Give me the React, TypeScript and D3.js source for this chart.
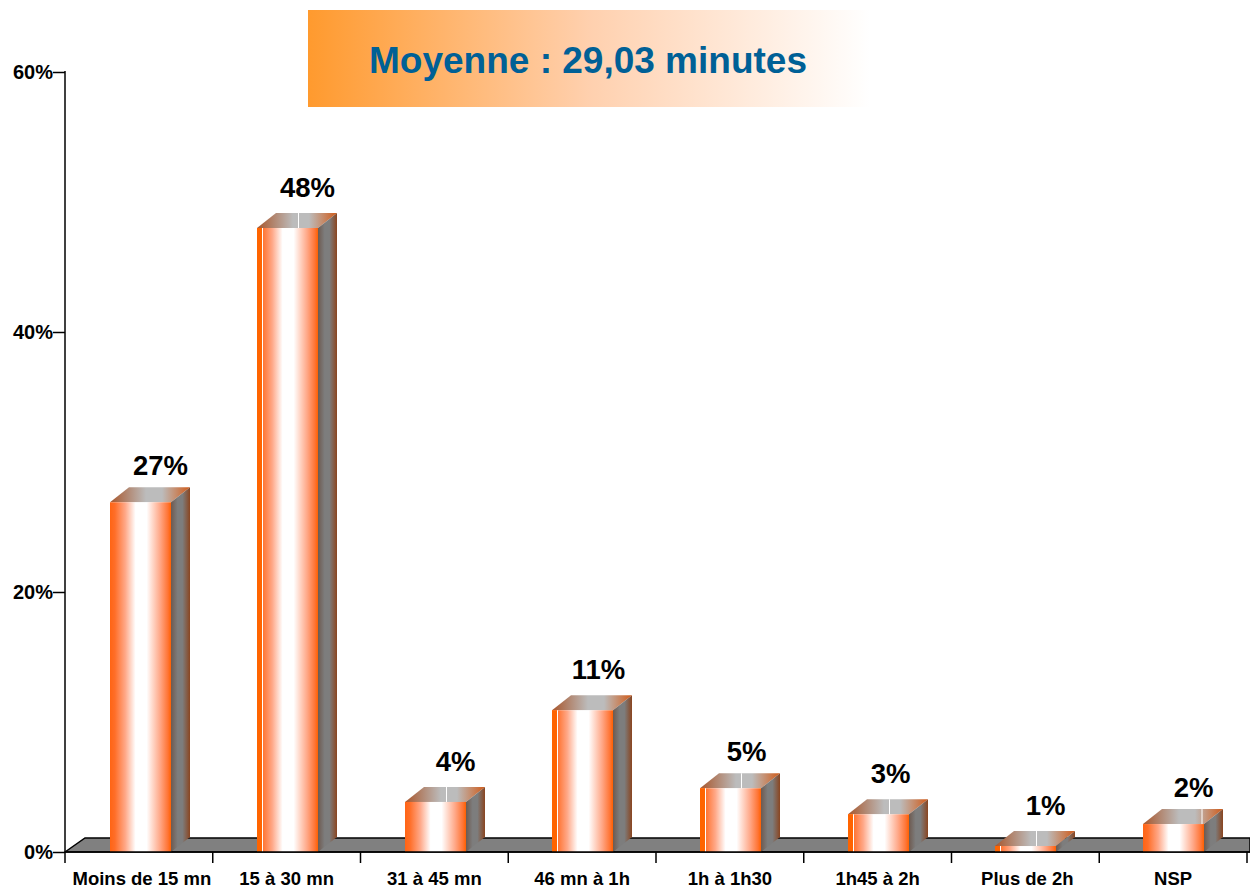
import React, { useEffect, useRef } from "react";
import * as d3 from "d3";

const categories = ["Moins de 15 mn", "15 à 30 mn", "31 à 45 mn", "46 mn à 1h", "1h à 1h30", "1h45 à 2h", "Plus de 2h", "NSP"];
const values = [26.9, 48, 3.85, 10.9, 4.9, 2.9, 0.46, 2.15];
const labels = ["27%", "48%", "4%", "11%", "5%", "3%", "1%", "2%"];
const yTicks = [0, 20, 40, 60];
const title = "Moyenne : 29,03 minutes";
const FONT = "'Liberation Sans', Arial, sans-serif";

export default function App() {
  const ref = useRef<SVGSVGElement>(null);

  useEffect(() => {
    const svg = d3.select(ref.current);
    svg.selectAll("*").remove();

    const margin = { left: 65, top: 72, right: 1247, bottom: 852 };
    const x = d3.scaleBand<string>().domain(categories).range([margin.left, margin.right]);
    // bars don't sit quite centred in the bands, so they get their own scale
    const barX = d3.scalePoint<string>().domain(categories).range([110, 1143.5]);
    const y = d3.scaleLinear().domain([0, 60]).range([margin.bottom, margin.top]);
    const depthX = 19;
    const depthY = 15;
    const barW = 61;

    const defs = svg.append("defs");
    const grad = (id: string, stops: [number, string][]) => {
      const g = defs.append("linearGradient").attr("id", id).attr("x1", "0%").attr("x2", "100%").attr("y1", "0%").attr("y2", "0%");
      stops.forEach(([o, c]) => g.append("stop").attr("offset", o + "%").attr("stop-color", c));
    };
    grad("banner", [[0, "#ff9a2e"], [50, "#ffd0ae"], [100, "#ffffff"]]);
    grad("front", [[0, "#ff6414"], [8, "#ff6e28"], [25, "#ffa888"], [42, "#ffffff"], [60, "#ffffff"], [82, "#ffa888"], [95, "#ff7434"], [100, "#ff6000"]]);
    grad("top", [[0, "#a8562c"], [45, "#bcbcbc"], [65, "#bcbcbc"], [100, "#d05a18"]]);
    grad("side", [[0, "#6e5a50"], [35, "#7d7d7d"], [60, "#7d7d7d"], [100, "#8a4520"]]);

    // banner
    svg.append("rect").attr("x", 308).attr("y", 10).attr("width", 562).attr("height", 97).attr("fill", "url(#banner)");
    svg.append("text").attr("x", 369).attr("y", 73).attr("font-family", FONT).attr("font-weight", "bold")
      .attr("font-size", 37).attr("fill", "#006096").text(title);

    // floor
    const floor = d3.path();
    floor.moveTo(margin.left, margin.bottom);
    floor.lineTo(margin.left + depthX + 1, margin.bottom - depthY + 1);
    floor.lineTo(1250, margin.bottom - depthY + 1);
    floor.lineTo(1250, margin.bottom);
    floor.closePath();
    svg.append("path").attr("d", floor.toString()).attr("fill", "#808080").attr("stroke", "#000").attr("stroke-width", 1.5);

    // bars
    const bars = svg.selectAll("g.bar").data(categories).enter().append("g").attr("class", "bar");
    bars.each(function (c, i) {
      const g = d3.select(this);
      const x0 = Math.floor(barX(c) as number);
      const top = y(values[i]);
      const bottom = y(0);
      const topFace = d3.path();
      topFace.moveTo(x0, top);
      topFace.lineTo(x0 + depthX, top - depthY);
      topFace.lineTo(x0 + barW + depthX, top - depthY);
      topFace.lineTo(x0 + barW, top);
      topFace.closePath();
      g.append("path").attr("d", topFace.toString()).attr("fill", "url(#top)");
      const side = d3.path();
      side.moveTo(x0 + barW, top);
      side.lineTo(x0 + barW + depthX, top - depthY);
      side.lineTo(x0 + barW + depthX, bottom - depthY);
      side.lineTo(x0 + barW, bottom);
      side.closePath();
      g.append("path").attr("d", side.toString()).attr("fill", "url(#side)");
      g.append("rect").attr("x", x0).attr("y", top).attr("width", barW).attr("height", bottom - top).attr("fill", "url(#front)");

      // the white seams only show on some bars in the original
      if ([1, 3, 4, 5, 6].includes(i)) {
        g.append("rect").attr("x", x0).attr("y", top).attr("width", 5).attr("height", bottom - top).attr("fill", "#ff6400");
        g.append("rect").attr("x", x0 + 5).attr("y", top).attr("width", 1).attr("height", bottom - top).attr("fill", "#fff");
      }
      if (i !== 0 && i !== 3) {
        const sx = x0 + (i === 7 ? 59 : 41.5);
        g.append("line").attr("x1", sx).attr("x2", sx).attr("y1", top - depthY).attr("y2", top).attr("stroke", "#fff");
      }

      const gap = [0, 4, 7].includes(i) ? 27 : 31;
      // labels of bars 4-6 sit further left
      const nudge = i === 3 || i === 4 ? -4 : i === 5 ? -8 : 0;
      g.append("text").attr("x", x0 + 50.5 + nudge).attr("y", top - gap).attr("text-anchor", "middle")
        .attr("font-family", FONT).attr("font-weight", "bold").attr("font-size", 27.5).attr("fill", "#000").text(labels[i]);
    });

    // axes
    const axisY = svg.append("g").attr("transform", `translate(${margin.left},0)`)
      .call(d3.axisLeft(y).tickValues(yTicks).tickSize(12).tickFormat((d) => d + "%"));
    axisY.select(".domain").attr("stroke", "#000").attr("stroke-width", 1.5).attr("d", `M0,${margin.top - 1}V${margin.bottom}`);
    axisY.selectAll("line").attr("stroke", "#000").attr("stroke-width", 1.5);
    axisY.selectAll("text").attr("font-family", FONT).attr("font-weight", "bold").attr("font-size", 20).attr("fill", "#000")
      .attr("x", -12).attr("dy", "0.3em");

    const axisX = svg.append("g").attr("transform", `translate(0,${margin.bottom})`)
      .call(d3.axisBottom(x).tickSize(0));
    axisX.select(".domain").attr("stroke", "#000").attr("stroke-width", 1.5).attr("d", `M${margin.left},0H1250`);
    axisX.selectAll("text").attr("font-family", FONT).attr("font-weight", "bold").attr("font-size", 18.5).attr("fill", "#000")
      .attr("y", 33).attr("dy", "0").attr("dx", (_d, i) => (i === 0 ? 3 : i === 6 ? 2 : 0));
    const edges = [...categories.map((c) => x(c) as number), margin.right];
    axisX.selectAll("line.edge").data(edges).enter().append("line").attr("class", "edge")
      .attr("x1", (d) => d).attr("x2", (d) => d).attr("y1", 0).attr("y2", 11).attr("stroke", "#000").attr("stroke-width", 1.5);
  }, []);

  return <svg ref={ref} width={1250} height={888} style={{ position: "absolute", left: 0, top: 0, background: "#fff" }} />;
}
